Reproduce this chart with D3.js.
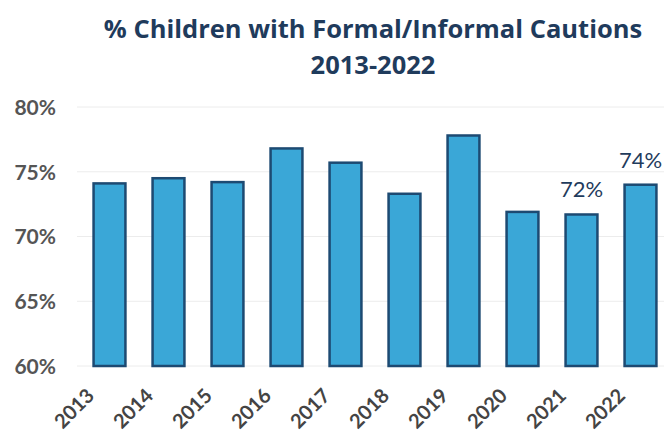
<!DOCTYPE html>
<html>
<head>
<meta charset="utf-8">
<script src="https://cdn.jsdelivr.net/npm/d3@7"></script>
<style>
  body { margin: 0; background: #fff; }
  text { font-family: Lato, "Open Sans", sans-serif; }
</style>
</head>
<body>
<div id="chart"></div>
<script>
const years = ["2013", "2014", "2015", "2016", "2017", "2018", "2019", "2020", "2021", "2022"];
const shares = [74.1, 74.5, 74.2, 76.8, 75.7, 73.3, 77.8, 71.9, 71.7, 74.0];
const labelled = {"2021": "72%", "2022": "74%"};
const yTicks = [60, 65, 70, 75, 80];

const width = 664, height = 434;
const margin = {top: 107, right: -6, bottom: 68, left: 80};

const svg = d3.select("#chart")
    .append("svg")
    .attr("width", width)
    .attr("height", height);

const xScale = d3.scaleBand()
    .domain(years)
    .range([margin.left, width - margin.right])
    .paddingInner(0.46)
    .paddingOuter(0.23);
const yScale = d3.scaleLinear()
    .domain([60, 80])
    .range([height - margin.bottom, margin.top]);

// faint gridlines
svg.append("g")
    .selectAll("line")
    .data(yTicks)
    .join("line")
    .attr("x1", 77)
    .attr("x2", width)
    .attr("y1", d => yScale(d))
    .attr("y2", d => yScale(d))
    .attr("stroke", "#ececec")
    .attr("stroke-width", 1);

let yAxis = d3.axisLeft(yScale)
    .tickValues(yTicks)
    .tickSize(0)
    .tickPadding(0)
    .tickFormat(d => d + "%");
svg.append("g")
    .attr("transform", "translate(56,0)")
    .call(yAxis)
    .call(g => g.select(".domain").remove())
    .selectAll("text")
    .attr("fill", "#555")
    .style("font-size", "21px")
    .style("font-weight", "bold")
    .attr("dy", "0.35em");

svg.selectAll(".bar")
    .data(years)
    .join("rect")
    .attr("class", "bar")
    .attr("x", d => xScale(d))
    .attr("y", (d, i) => yScale(shares[i]))
    .attr("width", xScale.bandwidth())
    .attr("height", (d, i) => yScale(60) - yScale(shares[i]))
    .attr("fill", "#3aa7d7")
    .attr("stroke", "#1d4a72")
    .attr("stroke-width", 2.5);

svg.selectAll(".val")
    .data(years.filter(d => labelled[d]))
    .join("text")
    .attr("class", "val")
    .attr("x", d => xScale(d) + xScale.bandwidth() / 2)
    .attr("y", d => yScale(shares[years.indexOf(d)]) - 17)
    .attr("text-anchor", "middle")
    .attr("fill", "#1f3b5c")
    .style("font-size", "22px")
    .text(d => labelled[d]);

let xAxis = d3.axisBottom(xScale).tickSize(0).tickPadding(0);
svg.append("g")
    .attr("transform", `translate(0, ${height - margin.bottom})`)
    .call(xAxis)
    .call(g => g.select(".domain").remove())
    .selectAll("text")
    .attr("fill", "#444")
    .style("font-size", "20px")
    .style("font-weight", "bold")
    .attr("text-anchor", "end")
    .attr("dy", "0.35em")
    .attr("transform", "translate(-19,26) rotate(-45)");

const title = svg.append("text")
    .attr("text-anchor", "middle")
    .attr("fill", "#1f3b5c")
    .style("font-family", "'Open Sans', sans-serif")
    .style("font-size", "25.5px")
    .style("font-weight", "bold");
title.append("tspan").attr("x", 373).attr("y", 38).text("% Children with Formal/Informal Cautions");
title.append("tspan").attr("x", 373).attr("y", 74).text("2013-2022");
</script>
</body>
</html>
